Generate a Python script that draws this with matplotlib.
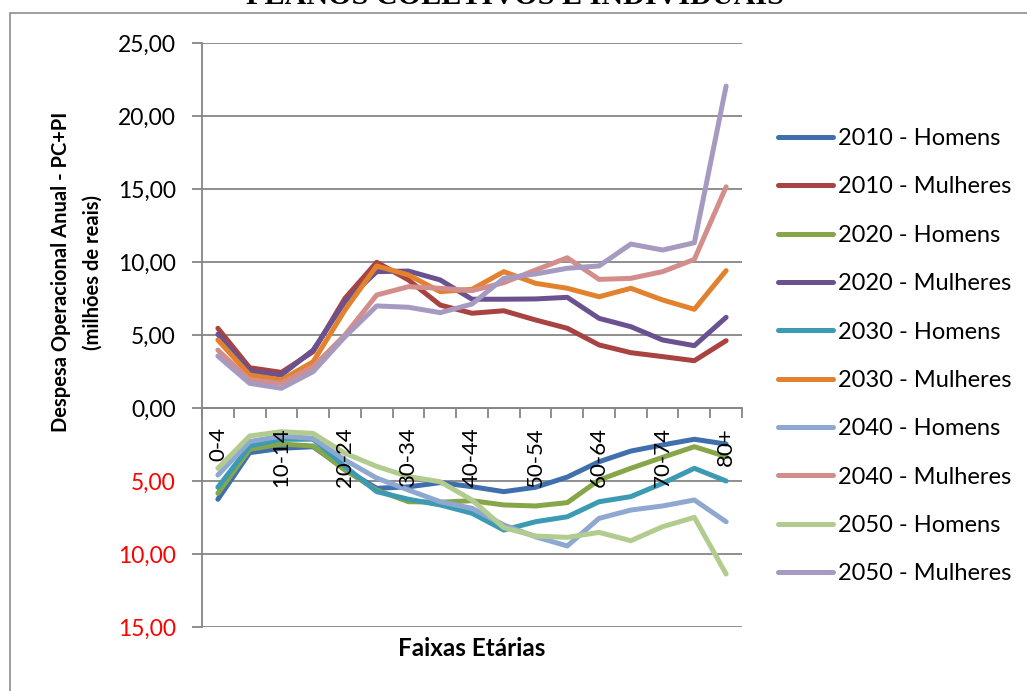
import matplotlib
matplotlib.use("Agg")
import matplotlib.pyplot as plt
from matplotlib.ticker import FixedLocator, FuncFormatter, NullFormatter
from matplotlib.patches import Rectangle

plt.rcParams['font.family'] = ['Lato', 'DejaVu Sans']

faixas = ["0-4", "5-9", "10-14", "15-19", "20-24", "25-29", "30-34", "35-39",
          "40-44", "45-49", "50-54", "55-59", "60-64", "65-69", "70-74",
          "75-79", "80+"]

# Despesa anual (milhões de reais); homens plotted below zero
h2010 = [-6.25, -3.06, -2.76, -2.65, -4.20, -5.50, -5.40, -5.11, -5.39, -5.73,
         -5.43, -4.73, -3.68, -2.95, -2.53, -2.14, -2.47]
m2010 = [5.46, 2.76, 2.44, 3.86, 7.51, 9.98, 8.77, 7.05, 6.49, 6.66, 6.03,
         5.46, 4.32, 3.79, 3.52, 3.24, 4.61]
h2020 = [-5.84, -2.83, -2.47, -2.60, -4.25, -5.62, -6.42, -6.45, -6.35, -6.64,
         -6.71, -6.48, -4.93, -4.13, -3.38, -2.65, -3.33]
m2020 = [5.05, 2.53, 2.26, 3.97, 7.28, 9.34, 9.38, 8.77, 7.45, 7.45, 7.47,
         7.58, 6.14, 5.57, 4.66, 4.27, 6.21]
h2030 = [-5.43, -2.60, -2.14, -2.14, -4.00, -5.73, -6.25, -6.64, -7.21, -8.36,
         -7.79, -7.45, -6.42, -6.07, -5.16, -4.13, -5.00]
m2030 = [4.66, 2.26, 1.92, 3.17, 6.71, 9.73, 9.11, 7.97, 8.13, 9.34, 8.54,
         8.20, 7.62, 8.20, 7.40, 6.76, 9.41]
h2040 = [-4.59, -2.30, -1.92, -2.08, -3.56, -4.80, -5.62, -6.42, -6.87, -8.01,
         -8.82, -9.45, -7.56, -6.99, -6.71, -6.30, -7.79]
m2040 = [3.97, 1.92, 1.69, 2.83, 5.00, 7.74, 8.31, 8.20, 8.04, 8.58, 9.45,
         10.29, 8.81, 8.88, 9.34, 10.18, 15.15]
h2050 = [-4.13, -1.92, -1.62, -1.74, -3.10, -4.00, -4.70, -5.05, -6.30, -8.20,
         -8.77, -8.86, -8.52, -9.09, -8.13, -7.49, -11.37]
m2050 = [3.56, 1.69, 1.35, 2.49, 4.88, 6.99, 6.90, 6.53, 7.12, 8.88, 9.18,
         9.57, 9.73, 11.23, 10.82, 11.32, 22.05]

series_names = ["2010 - Homens", "2010 - Mulheres", "2020 - Homens",
                "2020 - Mulheres", "2030 - Homens", "2030 - Mulheres",
                "2040 - Homens", "2040 - Mulheres", "2050 - Homens",
                "2050 - Mulheres"]
series_values = [h2010, m2010, h2020, m2020, h2030, m2030,
                 h2040, m2040, h2050, m2050]
series_colors = ["#3F70AD", "#A84341", "#87A64A", "#6A5290", "#3C9AB3",
                 "#E2822F", "#8FA8D2", "#D38E8C", "#B2CC90", "#A69AC0"]

W, H = 1027, 691
fig = plt.figure(figsize=(W / 100, H / 100), dpi=100)

# chart area border
fig.add_artist(Rectangle((10 / W, -0.05), 1.1, (H - 13) / H + 0.05,
                         transform=fig.transFigure, fill=False,
                         edgecolor="#8C8C8C", linewidth=1.2))

# title, running off the top of the canvas
fig.text(515 / W, 1 - 4 / H, "PLANOS COLETIVOS E INDIVIDUAIS",
         ha="center", va="baseline", fontsize=21.7, fontweight="bold",
         family="Liberation Serif")

left, right, top, bottom = 202, 742, 43, 627
ax = fig.add_axes([left / W, 1 - bottom / H, (right - left) / W,
                   (bottom - top) / H])

x = list(range(len(faixas)))
for name, vals, col in zip(series_names, series_values, series_colors):
    ax.plot(x, vals, color=col, lw=3.6, label=name,
            solid_capstyle="round", solid_joinstyle="round")

ax.set_xlim(-0.5, len(faixas) - 0.5)
ax.set_ylim(-15, 25)

grid_col = "#868686"
ax.set_yticks(range(-15, 26, 5))
ax.yaxis.set_major_formatter(FuncFormatter(
    lambda v, p: f"{abs(v):.2f}".replace(".", ",")))
ax.grid(axis="y", color=grid_col, lw=1.3)
ax.set_axisbelow(True)
ax.xaxis.set_zorder(4)
ax.tick_params(axis="y", length=7, width=1.3, color=grid_col,
               labelsize=16.5, pad=12, direction="out")
for lab, v in zip(ax.get_yticklabels(), range(-15, 26, 5)):
    lab.set_color("#FF0000" if v < 0 else "black")

for s in ("top", "right"):
    ax.spines[s].set_visible(False)
ax.spines["left"].set_color(grid_col)
ax.spines["left"].set_linewidth(1.3)
ax.spines["bottom"].set_position(("data", 0))
ax.spines["bottom"].set_color(grid_col)
ax.spines["bottom"].set_linewidth(1.3)
ax.spines["bottom"].set_zorder(1)

# tick marks between categories, labels on every other category
ax.xaxis.set_major_locator(FixedLocator([i - 0.5 for i in range(len(faixas) + 1)]))
ax.xaxis.set_major_formatter(NullFormatter())
ax.tick_params(axis="x", which="major", length=7, width=1.3,
               color=grid_col, direction="out")
ax.xaxis.set_minor_locator(FixedLocator(x[::2]))
ax.xaxis.set_minor_formatter(FuncFormatter(lambda v, p: faixas[int(round(v))]))
ax.tick_params(axis="x", which="minor", length=0, pad=14, labelsize=16,
               labelrotation=90)

fig.text(472 / W, 1 - 648 / H, "Faixas Etárias", ha="center", va="center",
         fontsize=17.5, fontweight="bold")
fig.text(77 / W, 1 - 272 / H,
         "Despesa Operacional Anual - PC+PI\n(milhões de reais)",
         ha="center", va="center", rotation=90, fontsize=14.5,
         fontweight="bold", linespacing=1.7)

fig.legend(loc="upper left", bbox_to_anchor=(778 / W, 1 - 128 / H),
           frameon=False, fontsize=17, handlelength=2.35,
           handletextpad=0.2, labelspacing=1.16, borderpad=0,
           borderaxespad=0)

fig.savefig("out.png", dpi=100)
